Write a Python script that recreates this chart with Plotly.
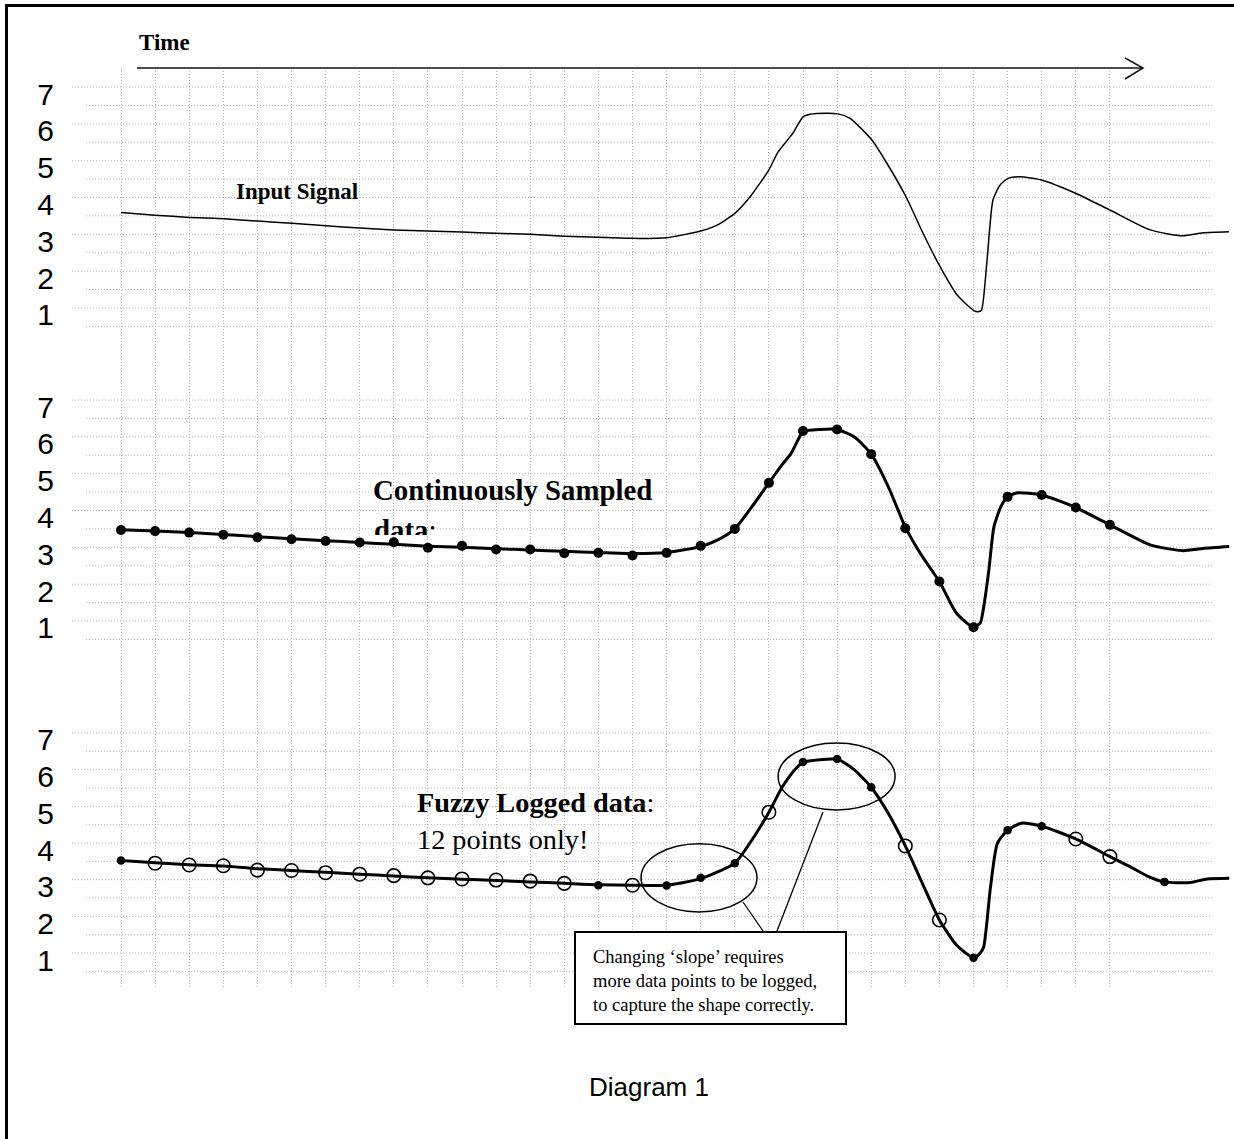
import plotly.graph_objects as go

W, H = 1234, 1139

# ---------------- data ----------------
time_ticks = list(range(30))          # sample instants (vertical grid)
value_ticks = [1, 2, 3, 4, 5, 6, 7]   # y tick labels
grid_levels = [0.5, 1, 1.5, 2, 2.5, 3, 3.5, 4, 4.5, 5, 5.5, 6, 6.5, 7]

# Panel 1 - input signal (continuous, thin)
input_t = [0, 1, 2.02, 3.02, 4.02, 5.01, 6.01, 7.01, 8, 9, 10, 11, 12, 13, 14, 15, 16,
           17, 17.48, 18, 18.45, 19, 19.27, 19.7, 20, 20.2, 20.7, 21.03, 21.38, 22.02,
           22.46, 23.02, 23.52, 24.02, 24.52, 25.01, 25.13, 25.23, 25.38, 25.48, 25.57,
           25.78, 26.02, 26.36, 27.01, 28.01, 29, 30.18, 31.14, 31.73, 32.49]
input_v = [3.59, 3.52, 3.46, 3.42, 3.36, 3.30, 3.23, 3.17, 3.12, 3.09, 3.06, 3.03, 3.00,
           2.95, 2.92, 2.89, 2.91, 3.09, 3.25, 3.57, 4.02, 4.75, 5.24, 5.74, 6.19, 6.26,
           6.29, 6.27, 6.15, 5.56, 4.93, 4.02, 3.03, 2.12, 1.35, 0.93, 0.90, 0.93, 2.12,
           3.21, 3.93, 4.34, 4.52, 4.56, 4.47, 4.11, 3.66, 3.12, 2.96, 3.04, 3.07]

# Panel 2 - continuously sampled data
cont_line_t = [0, 1, 2, 3, 4, 5, 6, 7, 8, 9, 10, 11, 12, 13, 14, 15, 16, 17, 17.5, 18,
               18.5, 19, 19.35, 19.65, 19.85, 20, 20.5, 21, 21.5, 22, 22.5, 23, 23.5, 24,
               24.5, 25, 25.2, 25.3, 25.45, 25.6, 25.8, 26, 26.3, 27, 28, 29, 30.2, 31.14,
               31.73, 32.5]
cont_line_v = [3.48, 3.44, 3.40, 3.35, 3.29, 3.23, 3.18, 3.13, 3.08, 3.03, 3.00, 2.96,
               2.93, 2.89, 2.86, 2.83, 2.86, 3.02, 3.20, 3.50, 4.10, 4.75, 5.20, 5.55,
               5.91, 6.14, 6.20, 6.20, 6.00, 5.53, 4.65, 3.55, 2.75, 2.07, 1.21, 0.83,
               0.95, 1.39, 2.38, 3.56, 4.10, 4.37, 4.48, 4.42, 4.08, 3.61, 3.06, 2.91,
               2.97, 3.02]
sample_t = list(range(30))
cont_sample_v = [3.47, 3.44, 3.40, 3.34, 3.27, 3.22, 3.17, 3.13, 3.14, 2.99, 3.04, 2.94,
                 2.94, 2.84, 2.85, 2.78, 2.85, 3.04, 3.50, 4.75, 6.16, 6.20, 5.53, 3.52,
                 2.07, 0.83, 4.37, 4.42, 4.08, 3.61]

# Panel 3 - fuzzy logged data
fuzzy_line_t = [0, 1, 2, 3, 4, 5, 6, 7, 8, 9, 10, 11, 12, 13, 14, 15, 16, 17, 18, 18.5,
                19, 19.4, 19.8, 20, 21, 21.5, 22, 22.5, 23, 23.5, 24, 24.5, 25, 25.2,
                25.3, 25.5, 25.7, 26, 26.4, 27, 28, 29, 29.6, 30.1, 30.6, 31.35, 31.85,
                32.5]
fuzzy_line_v = [3.52, 3.46, 3.41, 3.37, 3.30, 3.25, 3.20, 3.15, 3.10, 3.05, 3.01, 2.98,
                2.94, 2.90, 2.86, 2.85, 2.85, 3.03, 3.45, 4.08, 4.84, 5.54, 6.04, 6.20,
                6.28, 6.00, 5.52, 4.81, 3.92, 2.90, 1.90, 1.22, 0.87, 1.00, 1.17, 2.81,
                3.99, 4.35, 4.54, 4.46, 4.11, 3.63, 3.35, 3.10, 2.94, 2.92, 3.02, 3.04]
fuzzy_logged_t = [0, 14, 16, 17, 18, 20, 21, 22, 25, 26, 27, 30.6]
fuzzy_logged_v = [3.52, 2.85, 2.84, 3.05, 3.45, 6.21, 6.29, 5.52, 0.87, 4.35, 4.46, 2.94]
fuzzy_skipped_t = [1, 2, 3, 4, 5, 6, 7, 8, 9, 10, 11, 12, 13, 15, 19, 23, 24, 28, 29]
fuzzy_skipped_v = [3.45, 3.40, 3.38, 3.26, 3.25, 3.19, 3.15, 3.11, 3.05, 3.02, 2.99,
                   2.96, 2.90, 2.85, 4.84, 3.92, 1.90, 4.11, 3.63]

# ---------------- geometry helpers ----------------
def px(x):
    return x / W


def py(y):
    return 1 - y / H


T0_PX, T_STEP = 121, 34.1


def t_of(xpix):
    return (xpix - T0_PX) / T_STEP


x_range = [t_of(0), t_of(W)]
Y_RANGE = [0.2, 7.3]
# (pixel row of value 7, pixels per unit)
panels = [(87, 36.83), (400, 36.83), (733, 36.67)]


def dom(top7, s):
    return [py(top7 + (7 - Y_RANGE[0]) * s), py(top7 - (Y_RANGE[1] - 7) * s)]


SERIF = "Liberation Serif, Times New Roman, serif"
SANS = "Liberation Sans, Arial, sans-serif"
GRID_COLOR = "#b4b4b4"
GRID_DASH = "1px,2px"

fig = go.Figure()

# empty trace so the background grid subplot exists
fig.add_trace(go.Scatter(x=[], y=[], xaxis="x", yaxis="y", showlegend=False))

fig.add_trace(go.Scatter(x=input_t, y=input_v, mode="lines", xaxis="x2", yaxis="y2",
                         line=dict(color="black", width=1.5, shape="spline", smoothing=0.6),
                         showlegend=False, hoverinfo="skip"))

fig.add_trace(go.Scatter(x=cont_line_t, y=cont_line_v, mode="lines", xaxis="x2", yaxis="y3",
                         line=dict(color="black", width=3, shape="spline", smoothing=0.6),
                         showlegend=False, hoverinfo="skip"))
fig.add_trace(go.Scatter(x=sample_t, y=cont_sample_v, mode="markers", xaxis="x2", yaxis="y3",
                         marker=dict(color="black", size=10),
                         showlegend=False, hoverinfo="skip"))

fig.add_trace(go.Scatter(x=fuzzy_line_t, y=fuzzy_line_v, mode="lines", xaxis="x2", yaxis="y4",
                         line=dict(color="black", width=3, shape="spline", smoothing=0.6),
                         showlegend=False, hoverinfo="skip"))
fig.add_trace(go.Scatter(x=fuzzy_skipped_t, y=fuzzy_skipped_v, mode="markers", xaxis="x2",
                         yaxis="y4",
                         marker=dict(symbol="circle-open", color="black", size=13.5,
                                     line=dict(width=1.6, color="black")),
                         showlegend=False, hoverinfo="skip"))
fig.add_trace(go.Scatter(x=fuzzy_logged_t, y=fuzzy_logged_v, mode="markers", xaxis="x2",
                         yaxis="y4", marker=dict(color="black", size=8.5),
                         showlegend=False, hoverinfo="skip"))

# second line of the "Continuously Sampled" label, clipped by its frame as in the source
CLIP_TOP, CLIP_BOTTOM = 460, 535
fig.add_trace(go.Scatter(x=[t_of(374)], y=[(CLIP_BOTTOM - 533) / (CLIP_BOTTOM - CLIP_TOP)],
                         mode="text", text=["<b>data</b>:"], textposition="middle right",
                         textfont=dict(family=SERIF, size=28.8, color="black"),
                         cliponaxis=True, xaxis="x2", yaxis="y5",
                         showlegend=False, hoverinfo="skip"))

yax_common = dict(range=Y_RANGE, anchor="free", position=px(72), tickvals=value_ticks,
                  ticks="", showgrid=False, zeroline=False, showline=False,
                  tickfont=dict(family=SANS, size=30, color="black"),
                  ticklabelstandoff=18, ticklabelshift=7, fixedrange=True,
                  automargin=False)

fig.update_layout(
    width=W, height=H, margin=dict(l=0, r=0, t=0, b=0, pad=0, autoexpand=False),
    paper_bgcolor="white", plot_bgcolor="rgba(0,0,0,0)",
    showlegend=False,
    xaxis=dict(domain=[0, 1], range=x_range, anchor="y", tickvals=time_ticks,
               showticklabels=False, ticks="", showgrid=True, gridcolor=GRID_COLOR,
               griddash=GRID_DASH, gridwidth=1, zeroline=False, showline=False,
               fixedrange=True, automargin=False),
    yaxis=dict(domain=[py(988), py(68)], range=[0, 1], visible=False, fixedrange=True),
    xaxis2=dict(domain=[0, 1], range=x_range, anchor="y2", visible=False, fixedrange=True),
    yaxis2=dict(domain=dom(*panels[0]), **yax_common),
    yaxis3=dict(domain=dom(*panels[1]), **yax_common),
    yaxis4=dict(domain=dom(*panels[2]), **yax_common),
    yaxis5=dict(domain=[py(CLIP_BOTTOM), py(CLIP_TOP)], range=[0, 1], visible=False,
                anchor="free", position=0, fixedrange=True),
)

shapes = []
# horizontal dotted grid in each panel
for yref in ["y2", "y3", "y4"]:
    for lvl in grid_levels:
        x0 = px(72) if float(lvl).is_integer() else px(86)
        shapes.append(dict(type="line", xref="paper", yref=yref, x0=x0, x1=px(1212),
                           y0=lvl, y1=lvl, layer="below",
                           line=dict(color=GRID_COLOR, width=1, dash=GRID_DASH)))

# outer frame
shapes.append(dict(type="rect", xref="paper", yref="paper", x0=px(6.5), x1=px(1250),
                   y0=py(1160), y1=py(5.5), line=dict(color="black", width=3),
                   layer="above"))
# time arrow
shapes.append(dict(type="line", xref="paper", yref="paper", x0=px(137), x1=px(1143),
                   y0=py(68), y1=py(68), line=dict(color="#111", width=1.5), layer="above"))
shapes.append(dict(type="path", xref="paper", yref="paper",
                   path=f"M {px(1125)},{py(58)} L {px(1143)},{py(68)} L {px(1125)},{py(79)}",
                   line=dict(color="#111", width=1.5), layer="above"))
# ellipses around the slope changes (panel 3, data coordinates)
shapes.append(dict(type="circle", xref="x2", yref="y4", x0=15.25, x1=18.65, y0=2.12,
                   y1=3.98, line=dict(color="black", width=1.5), layer="above"))
shapes.append(dict(type="circle", xref="x2", yref="y4", x0=19.27, x1=22.70, y0=4.90,
                   y1=6.73, line=dict(color="black", width=1.5), layer="above"))
# callout lines
shapes.append(dict(type="line", xref="paper", yref="paper", x0=px(743), y0=py(902),
                   x1=px(763), y1=py(931), line=dict(color="black", width=1.3),
                   layer="above"))
shapes.append(dict(type="line", xref="paper", yref="paper", x0=px(823), y0=py(812),
                   x1=px(777), y1=py(931), line=dict(color="black", width=1.3),
                   layer="above"))
# callout box
shapes.append(dict(type="rect", xref="paper", yref="paper", x0=px(575), x1=px(846),
                   y0=py(1024), y1=py(932), fillcolor="white",
                   line=dict(color="black", width=2), layer="above"))

fig.update_layout(shapes=shapes)

ann = []
ann.append(dict(text="<b>Time</b>", x=px(137), y=py(43), xref="paper", yref="paper",
                xanchor="left", yanchor="middle", showarrow=False,
                font=dict(family=SERIF, size=23, color="black")))
ann.append(dict(text="<b>Input Signal</b>", x=px(234), y=py(192), xref="paper",
                yref="paper", xanchor="left", yanchor="middle", showarrow=False,
                font=dict(family=SERIF, size=23, color="black")))
ann.append(dict(text="<b>Continuously Sampled</b>", x=px(371), y=py(472),
                xref="paper", yref="paper", xanchor="left", yanchor="top", align="left",
                showarrow=False, font=dict(family=SERIF, size=28.8, color="black")))
ann.append(dict(text="<b>Fuzzy Logged data</b>:<br>12 points only!", x=px(415), y=py(785),
                xref="paper", yref="paper", xanchor="left", yanchor="top", align="left",
                showarrow=False, font=dict(family=SERIF, size=28.3, color="black")))
ann.append(dict(text="Changing \u2018slope\u2019 requires<br>more data points to be logged,"
                     "<br>to capture the shape correctly.",
                x=px(591), y=py(945), xref="paper", yref="paper", xanchor="left",
                yanchor="top", align="left", showarrow=False,
                font=dict(family=SERIF, size=18.5, color="black")))
ann.append(dict(text="Diagram 1", x=px(649), y=py(1087), xref="paper", yref="paper",
                xanchor="center", yanchor="middle", showarrow=False,
                font=dict(family=SANS, size=26, color="black")))
fig.update_layout(annotations=ann)

fig.write_html(
    "out.html", config={"displayModeBar": False, "responsive": False},
    post_script=("document.documentElement.style.margin='0';"
                 "document.body.style.margin='0';document.body.style.padding='0';"
                 "document.body.style.overflow='hidden';"
                 "var d=document.querySelector('.plotly-graph-div');"
                 "d.style.position='absolute';d.style.left='0px';d.style.top='0px';"))
